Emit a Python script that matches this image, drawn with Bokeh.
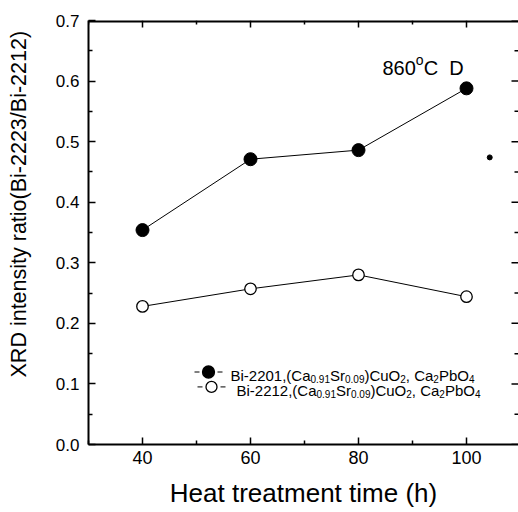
import math
from bokeh.plotting import figure
from bokeh.models import Range1d, LinearAxis, FixedTicker, Label, PrintfTickFormatter
from bokeh.embed import file_html
from bokeh.resources import INLINE

# ---------------- data ----------------
hours = [40, 60, 80, 100]
ratio_2201 = [0.354, 0.471, 0.486, 0.588]   # filled circles
ratio_2212 = [0.228, 0.257, 0.280, 0.244]   # open circles
speck_x = [104.3]
speck_y = [0.474]

x_major = [40, 60, 80, 100]
x_minor = [30, 50, 70, 90]
y_major = [0.0, 0.1, 0.2, 0.3, 0.4, 0.5, 0.6, 0.7]
y_minor = [0.05, 0.15, 0.25, 0.35, 0.45, 0.55, 0.65]

x_title = "Heat treatment time (h)"
y_title = "XRD intensity ratio(Bi-2223/Bi-2212)"
legend_rows = [
    [("Bi-2201,(Ca", 0), ("0.91", 1), ("Sr", 0), ("0.09", 1), (")CuO", 0), ("2", 1),
     (", Ca", 0), ("2", 1), ("PbO", 0), ("4", 1)],
    [("Bi-2212,(Ca", 0), ("0.91", 1), ("Sr", 0), ("0.09", 1), (")CuO", 0), ("2", 1),
     (", Ca", 0), ("2", 1), ("PbO", 0), ("4", 1)],
]
annotation = [("860", 0), ("o", 2), ("C", 0), ("D", 3)]

# ---------------- layout ----------------
FONT = "Liberation Sans"
W, H = 518, 510
LEFT, TOP, BOTTOM = 88, 20, 63
FW = W - LEFT
FH = H - TOP - BOTTOM
X0, X1 = 30, 30 + FW / 5.4
Y0, Y1 = 0.0, 0.7

ARIAL = {'B': 667, 'i': 222, '-': 333, ',': 278, '.': 278, '(': 333, ')': 333, 'C': 722,
         'a': 556, 'S': 667, 'r': 333, 'u': 556, 'O': 778, 'P': 667, 'b': 556, ' ': 278,
         'D': 722, 'o': 556}
for d in "0123456789":
    ARIAL[d] = 556


def tw(s, size):
    return sum(ARIAL.get(c, 556) for c in s) * size / 1000.0


def dx(px):
    return px * (X1 - X0) / FW


def dy(px):
    return px * (Y1 - Y0) / FH


p = figure(width=W, height=H, output_backend="svg", toolbar_location=None,
           x_range=Range1d(X0, X1), y_range=Range1d(Y0, Y1),
           min_border_left=LEFT, min_border_right=0, min_border_top=TOP,
           min_border_bottom=BOTTOM, x_axis_location=None, y_axis_location=None)
p.outline_line_color = None
p.grid.visible = False
p.background_fill_color = "white"
p.border_fill_color = "white"


def style_axis(ax):
    ax.axis_line_width = 2
    ax.axis_line_color = "black"
    ax.major_tick_line_color = "black"
    ax.minor_tick_line_color = "black"
    ax.major_tick_line_width = 1.5
    ax.minor_tick_line_width = 1.5
    ax.major_tick_out = 0
    ax.minor_tick_out = 0
    ax.major_tick_in = 7
    ax.minor_tick_in = 4


bottom = LinearAxis(ticker=FixedTicker(ticks=x_major, minor_ticks=x_minor))
style_axis(bottom)
bottom.major_label_text_font = FONT
bottom.major_label_text_font_size = "18px"
bottom.major_label_text_color = "black"
bottom.major_label_standoff = 6
bottom.axis_label = x_title
bottom.axis_label_text_font = FONT
bottom.axis_label_text_font_size = "26px"
bottom.axis_label_text_font_style = "normal"
bottom.axis_label_text_color = "black"
bottom.axis_label_standoff = 11
p.add_layout(bottom, "below")

left = LinearAxis(ticker=FixedTicker(ticks=y_major, minor_ticks=y_minor),
                  formatter=PrintfTickFormatter(format="%.1f"))
style_axis(left)
left.major_label_text_font = FONT
left.major_label_text_font_size = "17px"
left.major_label_text_color = "black"
left.major_label_standoff = 9
p.add_layout(left, "left")

# y-axis title in the left panel (shifted upward as in the original)
p.add_layout(Label(x=X0 - dx(70), y=Y0 + dy(242), x_units="data", y_units="data",
                   text=y_title, angle=math.pi / 2,
                   text_align="center", text_baseline="middle", text_font=FONT,
                   text_font_size="21.5px", text_color="black"), "left")

# top border and the inward ticks of the top and right sides
p.segment(x0=[X0], y0=[Y1], x1=[X1], y1=[Y1], line_color="black", line_width=4)
p.segment(x0=x_major, y0=[Y1 - dy(7)] * len(x_major), x1=x_major, y1=[Y1] * len(x_major),
          line_color="black", line_width=1.5)
p.segment(x0=x_minor, y0=[Y1 - dy(4)] * len(x_minor), x1=x_minor, y1=[Y1] * len(x_minor),
          line_color="black", line_width=1.5)
p.segment(x0=[X1 - dx(7)] * len(y_major), y0=y_major, x1=[X1] * len(y_major), y1=y_major,
          line_color="black", line_width=1.5)
p.segment(x0=[X1 - dx(4)] * len(y_minor), y0=y_minor, x1=[X1] * len(y_minor), y1=y_minor,
          line_color="black", line_width=1.5)

# ---------------- series ----------------
p.line(hours, ratio_2201, line_color="black", line_width=1)
p.scatter(hours, ratio_2201, size=13, marker="circle", fill_color="black", line_color="black")
p.line(hours, ratio_2212, line_color="black", line_width=1)
p.scatter(hours, ratio_2212, size=11.5, marker="circle", fill_color="white",
          line_color="black", line_width=1.3)
p.scatter(speck_x, speck_y, size=5, marker="circle", fill_color="black", line_color="black")

# ---------------- legend (hand built, with subscripts) ----------------
LEG_MARK = [(120, 73), (123, 58)]          # marker centres, px from frame left / bottom
LEG_TEXT = [(142, 69), (148, 54)]          # text start / baseline, px
LEG_FILL = ["black", "white"]
LEG_SIZE = [12, 11]
MAIN, SUB = 15, 10
for (mx, my), (tx, ty), fc, sz, row in zip(LEG_MARK, LEG_TEXT, LEG_FILL, LEG_SIZE, legend_rows):
    cx, cy = X0 + dx(mx), Y0 + dy(my)
    p.segment(x0=[cx - dx(14), cx + dx(9)], y0=[cy, cy], x1=[cx - dx(9), cx + dx(14)], y1=[cy, cy],
              line_color="black", line_width=1)
    p.scatter([cx], [cy], size=sz, marker="circle", fill_color=fc, line_color="black", line_width=1.3)
    x = tx
    for s, sub in row:
        size = SUB if sub else MAIN
        p.add_layout(Label(x=x, y=ty - (3 if sub else 0), x_units="screen", y_units="screen",
                           text=s, text_font=FONT, text_font_size=f"{size}px",
                           text_baseline="alphabetic", text_align="left", text_color="black"))
        x += tw(s, size)

# ---------------- "860oC D" annotation ----------------
x, base = 294, 377
for s, kind in annotation:
    if kind == 2:
        size, yy = 14, base + 8
    else:
        size, yy = 20, base
    if kind == 3:
        x += tw("  ", 20)
    p.add_layout(Label(x=x, y=yy, x_units="screen", y_units="screen", text=s, text_font=FONT,
                       text_font_size=f"{size}px", text_baseline="alphabetic",
                       text_align="left", text_color="black"))
    x += tw(s, size)

open("out.html", "w").write(file_html(p, INLINE))
